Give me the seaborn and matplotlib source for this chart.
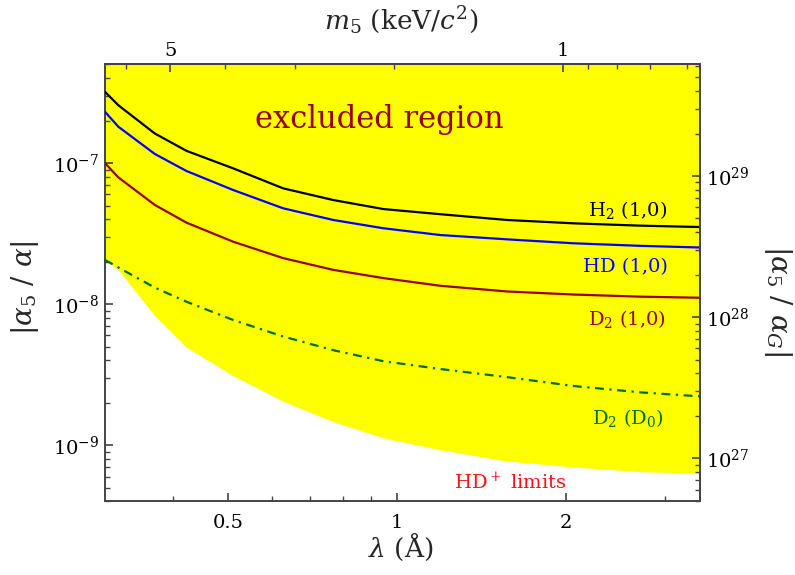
import numpy as np
import pandas as pd
import matplotlib
matplotlib.use('Agg')
import matplotlib.pyplot as plt
import matplotlib.ticker as mticker
import seaborn as sns

# Data
lam = [0.302, 0.319, 0.3705, 0.422, 0.511, 0.627, 0.770, 0.946,
       1.194, 1.570, 2.063, 2.713, 3.47]  # lambda (Angstrom)
h2_10 = [3.20e-7, 2.57e-7, 1.62e-7, 1.22e-7, 9.17e-8, 6.62e-8, 5.47e-8, 4.72e-8,
         4.34e-8, 3.95e-8, 3.74e-8, 3.60e-8, 3.52e-8]
hd_10 = [2.31e-7, 1.81e-7, 1.16e-7, 8.78e-8, 6.44e-8, 4.78e-8, 3.95e-8, 3.45e-8,
         3.09e-8, 2.88e-8, 2.70e-8, 2.59e-8, 2.52e-8]
d2_10 = [1.00e-7, 7.92e-8, 5.05e-8, 3.78e-8, 2.77e-8, 2.12e-8, 1.75e-8, 1.53e-8,
         1.35e-8, 1.23e-8, 1.17e-8, 1.13e-8, 1.11e-8]
d2_d0 = [2.06e-8, 1.82e-8, 1.31e-8, 1.04e-8, 7.72e-9, 5.90e-9, 4.72e-9, 3.94e-9,
         3.47e-9, 3.04e-9, 2.63e-9, 2.37e-9, 2.22e-9]
hdp_limit = [2.06e-8, 1.75e-8, 8.27e-9, 4.94e-9, 3.11e-9, 2.05e-9, 1.47e-9, 1.13e-9,
             9.29e-10, 7.73e-10, 7.02e-10, 6.50e-10, 6.33e-10]

HC = 1.97327               # hbar*c in keV*Angstrom  (m5 = HC / lambda)
ALPHA_OVER_AG = 1.2356e36  # alpha / alpha_G

x_major = [0.5, 1, 2]
x_major_labels = ['0.5', '1', '2']
m_major = [1, 5]
m_major_labels = ['1', '5']

df = pd.DataFrame({'lam': lam, 'H2': h2_10, 'HD': hd_10, 'D2': d2_10,
                   'D2D0': d2_d0, 'lim': hdp_limit})


def log_minors(lo, hi):
    out = []
    for e in range(lo, hi):
        out += [k * 10.0 ** e for k in range(2, 10)]
    return out


sns.set_style('ticks')
plt.rcParams['font.family'] = ['DejaVu Serif']
plt.rcParams['mathtext.fontset'] = 'dejavuserif'
plt.rcParams['axes.linewidth'] = 1.4
plt.rcParams['axes.edgecolor'] = '#444444'
plt.rcParams['axes.axisbelow'] = False   # ticks on top of the yellow fill

fig = plt.figure(figsize=(7.95, 5.75), dpi=100)
ax = fig.add_axes([0.132, 0.128, 0.749, 0.761])
ax.set_xscale('log')
ax.set_yscale('log')

# excluded region
ax.fill_between(df['lam'], df['lim'], 1e-6, color='#ffff00', lw=0, zorder=1)

sns.lineplot(data=df, x='lam', y='H2', ax=ax, color='black', lw=1.6, zorder=3)
sns.lineplot(data=df, x='lam', y='HD', ax=ax, color='#0000ff', lw=1.6, zorder=3)
sns.lineplot(data=df, x='lam', y='D2', ax=ax, color='#990000', lw=1.6, zorder=3)
sns.lineplot(data=df, x='lam', y='D2D0', ax=ax, color='#006e00', lw=1.6, zorder=3,
             linestyle=(0, (4, 2.5, 1, 2.5)))

ax.set_xlim(0.302, 3.47)
ax.set_ylim(4.0e-10, 5.05e-7)
ax.set_xlabel('')
ax.set_ylabel('')
ax.set_axisbelow(False)

ax.xaxis.set_major_locator(mticker.FixedLocator(x_major))
ax.xaxis.set_major_formatter(mticker.FixedFormatter(x_major_labels))
ax.xaxis.set_minor_locator(mticker.FixedLocator(log_minors(-1, 1)))
ax.xaxis.set_minor_formatter(mticker.NullFormatter())
ax.yaxis.set_major_locator(mticker.FixedLocator([1e-9, 1e-8, 1e-7]))
ax.yaxis.set_major_formatter(mticker.LogFormatterSciNotation())
ax.yaxis.set_minor_locator(mticker.FixedLocator(log_minors(-10, -6)))
ax.yaxis.set_minor_formatter(mticker.NullFormatter())

tick_kw = dict(direction='in', labelsize=14, colors='#444444', labelcolor='black')
ax.tick_params(which='major', length=6, width=1.2, top=False, right=False, **tick_kw)
ax.tick_params(which='minor', length=3.5, width=1.0, top=False, right=False,
               direction='in', colors='#444444')
ax.tick_params(axis='x', which='major', pad=9)
ax.tick_params(axis='y', which='major', pad=4)

# top axis: mass in keV/c^2
secx = ax.secondary_xaxis('top', functions=(lambda x: HC / x, lambda m: HC / m))
secx.set_zorder(5)
secx.set_axisbelow(False)
secx.xaxis.set_major_locator(mticker.FixedLocator(m_major))
secx.xaxis.set_major_formatter(mticker.FixedFormatter(m_major_labels))
secx.xaxis.set_minor_locator(mticker.FixedLocator([0.6, 0.7, 0.8, 0.9, 2, 3, 4, 6]))
secx.xaxis.set_minor_formatter(mticker.NullFormatter())
secx.tick_params(which='major', length=6, width=1.2, pad=3, **tick_kw)
secx.tick_params(which='minor', length=3.5, width=1.0, direction='in', colors='#444444')

# right axis: alpha5 / alpha_G
secy = ax.secondary_yaxis('right', functions=(lambda v: v * ALPHA_OVER_AG,
                                              lambda v: v / ALPHA_OVER_AG))
secy.set_zorder(5)
secy.set_axisbelow(False)
secy.yaxis.set_major_locator(mticker.FixedLocator([1e27, 1e28, 1e29]))
secy.yaxis.set_major_formatter(mticker.LogFormatterSciNotation())
secy.yaxis.set_minor_locator(mticker.FixedLocator(log_minors(26, 30)))
secy.yaxis.set_minor_formatter(mticker.NullFormatter())
secy.tick_params(which='major', length=6, width=1.2, pad=4, **tick_kw)
secy.tick_params(which='minor', length=3.5, width=1.0, direction='in', colors='#444444')

# curve labels
ax.text(0.945, 0.666, r'H$_2$ (1,0)', transform=ax.transAxes, ha='right', va='center',
        fontsize=14, color='black', zorder=4)
ax.text(0.945, 0.536, 'HD (1,0)', transform=ax.transAxes, ha='right', va='center',
        fontsize=14, color='#0000ff', zorder=4)
ax.text(0.942, 0.417, r'D$_2$ (1,0)', transform=ax.transAxes, ha='right', va='center',
        fontsize=14, color='#990000', zorder=4)
ax.text(0.938, 0.191, r'D$_2$ (D$_0$)', transform=ax.transAxes, ha='right', va='center',
        fontsize=14, color='#006e00', zorder=4)
ax.text(0.681, 0.045, r'HD$^+$ limits', transform=ax.transAxes, ha='center', va='center',
        fontsize=14, color='#ff1010', zorder=4)
ax.text(0.46, 0.872, 'excluded region', transform=ax.transAxes, ha='center', va='center',
        fontsize=22, color='#990000', zorder=4)

# axis titles
fig.text(25 / 795, 1 - 288 / 575, r'$|\alpha_5\ /\ \alpha|$', rotation=90,
         ha='center', va='center', fontsize=20)
fig.text(778 / 795, 1 - 300 / 575, r'$|\alpha_5\ /\ \alpha_G|$', rotation=270,
         ha='center', va='center', fontsize=20)
fig.text(401 / 795, 1 - 547 / 575, r'$\lambda$ (Å)', ha='center', va='center', fontsize=19)
fig.text(401 / 795, 1 - 20 / 575, r'$m_5$ (keV/$c^2$)', ha='center', va='center', fontsize=19)

plt.savefig('out.png', dpi=100)
plt.close()
